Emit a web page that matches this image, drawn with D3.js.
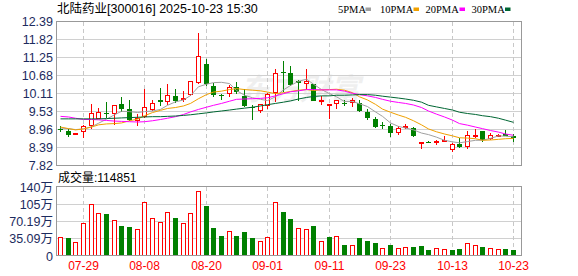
<!DOCTYPE html>
<html><head><meta charset="utf-8">
<script src="https://cdn.jsdelivr.net/npm/d3@7"></script>
<style>body{margin:0;background:#fff}svg{display:block}</style>
</head><body>
<svg id="c" width="578" height="276"></svg>
<script>
const title = "北陆药业[300016] 2025-10-23 15:30";
const dates = ["07-24","07-25","07-28","07-29","07-30","07-31","08-01","08-04","08-05","08-06","08-07","08-08","08-11","08-12","08-13","08-14","08-15","08-18","08-19","08-20","08-21","08-22","08-25","08-26","08-27","08-28","08-29","09-01","09-02","09-03","09-04","09-05","09-08","09-09","09-10","09-11","09-12","09-15","09-16","09-17","09-18","09-19","09-22","09-23","09-24","09-25","09-26","09-29","09-30","10-09","10-10","10-13","10-14","10-15","10-16","10-17","10-20","10-21","10-22","10-23"];
const openP  = [8.99,8.93,8.79,8.87,9.08,9.30,9.49,9.44,9.78,9.61,9.24,9.36,9.59,9.91,9.82,10.01,9.89,10.07,10.44,11.05,10.35,10.05,10.10,10.31,10.01,9.69,9.54,9.72,10.12,10.78,10.77,10.49,10.40,10.42,9.88,9.75,9.78,9.80,9.80,9.80,9.51,9.28,9.09,9.06,8.85,9.01,9.01,8.56,8.58,8.52,8.60,8.30,8.51,8.41,8.77,8.90,8.66,8.72,8.81,8.77];
const closeP = [8.98,8.79,8.85,9.06,9.49,9.52,9.47,9.74,9.61,9.27,9.33,9.68,9.80,9.82,10.06,9.86,9.96,10.50,11.30,10.40,10.07,10.04,10.31,10.14,9.70,9.68,9.77,10.10,10.77,10.76,10.38,10.44,10.51,9.87,9.89,9.76,9.91,9.79,9.90,9.54,9.33,9.03,9.08,8.85,9.01,9.08,8.75,8.57,8.57,8.61,8.62,8.49,8.40,8.79,8.80,8.62,8.79,8.80,8.77,8.69];
const highP  = [9.06,8.97,8.86,9.11,9.78,9.66,9.85,9.74,9.99,9.91,9.45,10.24,9.91,10.28,10.42,10.25,10.17,10.50,12.04,11.20,10.44,10.08,10.37,10.48,10.25,9.73,9.77,10.12,10.88,11.13,10.99,10.52,10.88,10.42,10.04,9.76,9.91,9.90,9.95,9.91,9.61,9.36,9.20,9.15,9.08,9.14,9.03,8.57,8.61,8.62,8.77,8.54,8.69,8.90,8.99,8.90,8.85,8.81,8.96,8.82];
const lowP   = [8.88,8.74,8.78,8.69,8.98,9.28,9.32,9.11,9.52,9.22,9.06,9.32,9.55,9.72,9.74,9.80,9.82,10.04,10.40,10.33,9.99,9.89,9.99,10.08,9.68,9.25,9.49,9.61,9.82,10.14,10.33,9.88,10.22,9.86,9.75,9.30,9.61,9.72,9.68,9.52,9.25,9.01,8.98,8.73,8.80,8.98,8.74,8.35,8.54,8.48,8.60,8.25,8.38,8.35,8.69,8.57,8.64,8.71,8.76,8.56];
const prevClose = 8.95;
const ma5  = [9.01,8.99,8.96,8.98,9.05,9.16,9.29,9.43,9.54,9.53,9.50,9.53,9.55,9.60,9.73,9.84,9.90,10.04,10.32,10.40,10.45,10.46,10.42,10.20,10.05,9.97,9.92,9.88,10.00,10.22,10.36,10.49,10.56,10.40,10.23,10.10,10.00,9.85,9.85,9.78,9.69,9.52,9.38,9.17,9.06,9.01,8.95,8.85,8.80,8.72,8.62,8.57,8.54,8.58,8.62,8.62,8.68,8.76,8.75,8.73];
const ma10 = [9.04,8.99,8.95,8.98,9.04,9.11,9.14,9.15,9.17,9.24,9.29,9.40,9.50,9.57,9.63,9.66,9.71,9.79,9.94,10.07,10.15,10.18,10.23,10.26,10.23,10.21,10.19,10.15,10.10,10.13,10.17,10.21,10.23,10.20,10.22,10.23,10.24,10.21,10.13,10.00,9.90,9.76,9.61,9.51,9.42,9.35,9.24,9.11,8.98,8.89,8.82,8.76,8.70,8.69,8.67,8.62,8.63,8.65,8.67,8.68];
const ma20 = [9.38,9.36,9.32,9.28,9.28,9.27,9.25,9.23,9.22,9.21,9.20,9.21,9.24,9.28,9.32,9.37,9.44,9.52,9.60,9.67,9.73,9.79,9.86,9.92,9.93,9.94,9.95,9.97,10.03,10.10,10.16,10.19,10.23,10.23,10.22,10.22,10.22,10.18,10.11,10.07,10.03,9.98,9.92,9.86,9.82,9.79,9.74,9.66,9.55,9.45,9.36,9.26,9.15,9.10,9.04,8.99,8.93,8.88,8.82,8.78];
const ma30 = [9.30,9.30,9.30,9.30,9.30,9.30,9.31,9.32,9.33,9.34,9.35,9.36,9.37,9.37,9.38,9.39,9.41,9.43,9.46,9.49,9.52,9.55,9.58,9.61,9.64,9.67,9.71,9.75,9.79,9.83,9.87,9.93,9.98,10.01,10.03,10.03,10.05,10.05,10.06,10.07,10.07,10.05,10.02,9.99,9.96,9.93,9.89,9.83,9.73,9.68,9.63,9.58,9.51,9.47,9.44,9.40,9.37,9.32,9.26,9.19];
const volume = [38.0,36.0,27.8,66.5,105.0,86.8,85.4,72.6,61.0,58.3,54.2,109.0,76.6,68.5,90.2,76.6,66.5,86.8,131.5,101.7,56.3,40.7,50.2,40.7,48.8,36.6,30.5,38.0,109.0,88.8,75.3,56.3,54.2,61.0,30.5,38.0,40.0,22.4,21.7,36.6,30.5,26.4,15.6,22.4,15.6,17.6,17.6,20.3,12.2,15.6,13.6,12.2,14.2,25.8,22.4,17.6,15.6,13.6,14.2,11.49];
const lastVolumeText = "成交量:114851";
const priceTicks = [12.39,11.82,11.25,10.68,10.11,9.53,8.96,8.39,7.82];
const priceTickLabels = ["12.39","11.82","11.25","10.68","10.11","9.53","8.96","8.39","7.82"];
const volTicks = [140.38,105.28,70.19,35.09,0];
const volTickLabels = ["140万","105万","70.19万","35.09万","0"];
const dateTicks = ["07-29","08-08","08-20","09-01","09-11","09-23","10-13","10-23"];
const maNames = ["5PMA","10PMA","20PMA","30PMA"];
const maColors = ["#a0a0a0","#f0a000","#ff00ff","#006633"];
const maSeries = [ma5, ma10, ma20, ma30];

const RED = "#ff0000", GREEN = "#008000";
const L = 56, R = 522;
const svg = d3.select("#c");
const font = "'Liberation Sans','Noto Sans CJK SC',sans-serif";

const x = d3.scaleBand().domain(dates).range([L, L + dates.length * 7.68]);
const cx = d => Math.round(x(d) + x.bandwidth() / 2);
const y = d3.scaleLinear().domain([7.82, 12.39]).range([165.5, 21.5]);
const yv = d3.scaleLinear().domain([0, 140.38]).range([256, 187]);

// watermark
svg.append("text").attr("x", 300).attr("y", 100).attr("text-anchor", "middle")
  .attr("font-family", "'Noto Sans CJK SC',sans-serif").attr("font-size", 30).attr("font-weight", "bold")
  .attr("font-style", "italic").attr("fill", "#000").attr("opacity", 0.06).text("东方财富");

// title
svg.append("text").attr("x", 57).attr("y", 13).attr("font-family", font).attr("font-size", 12.5)
  .attr("fill", "#000").text(title);

// legend
const legX = [338, 380, 425.5, 471.5];
const legSq = [365.5, 413.5, 459.5, 505];
maNames.forEach((n, k) => {
  svg.append("text").attr("x", legX[k]).attr("y", 13).attr("font-family", "'Liberation Serif',serif")
    .attr("font-size", 10.5).attr("fill", "#000").text(n);
  svg.append("rect").attr("x", legSq[k]).attr("y", 7.5).attr("width", 5.5).attr("height", 3.5)
    .attr("fill", maColors[k]);
});

const g = svg.append("g").attr("shape-rendering", "crispEdges");

// price grid
priceTicks.slice(1, -1).forEach(t => {
  const yy = Math.round(y(t) - 0.5) + 0.5;
  g.append("line").attr("x1", L).attr("x2", R).attr("y1", yy).attr("y2", yy).attr("stroke", "#d0d0d0");
});
// volume grid
volTicks.slice(1, -1).forEach(t => {
  const yy = Math.round(yv(t) - 0.5) + 0.5;
  g.append("line").attr("x1", L).attr("x2", R).attr("y1", yy).attr("y2", yy).attr("stroke", "#d0d0d0");
});
// vertical dashed
dateTicks.forEach(d => {
  const xx = cx(d) + 0.5;
  g.append("line").attr("x1", xx).attr("x2", xx).attr("y1", 22).attr("y2", 165).attr("stroke", "#c8c8c8").attr("stroke-dasharray", "4,3");
  g.append("line").attr("x1", xx).attr("x2", xx).attr("y1", 187).attr("y2", 256).attr("stroke", "#c8c8c8").attr("stroke-dasharray", "4,3");
});

// axis labels
priceTicks.forEach((t, k) => {
  svg.append("text").attr("x", 53).attr("y", y(t)).attr("dy", "0.36em").attr("text-anchor", "end")
    .attr("font-family", font).attr("font-size", 12.5).attr("fill", "#1c2b5e").text(priceTickLabels[k]);
});
volTicks.forEach((t, k) => {
  svg.append("text").attr("x", 53).attr("y", yv(t)).attr("dy", "0.36em").attr("text-anchor", "end")
    .attr("font-family", font).attr("font-size", 12.5).attr("fill", "#1c2b5e").text(volTickLabels[k]);
});
dateTicks.forEach(d => {
  svg.append("text").attr("x", cx(d) + 0.5).attr("y", 270).attr("text-anchor", "middle")
    .attr("font-family", font).attr("font-size", 12).attr("fill", RED).text(d);
});
svg.append("text").attr("x", 58).attr("y", 182).attr("font-family", font).attr("font-size", 12).attr("fill", "#000").text(lastVolumeText);

// candles
dates.forEach((d, i) => {
  const o = openP[i], c = closeP[i];
  const up = c > o;
  const col = up ? RED : GREEN;
  const px = cx(d);
  const yh = Math.round(y(highP[i])), yl = Math.round(y(lowP[i]));
  let yt = Math.round(y(Math.max(o, c))), yb = Math.round(y(Math.min(o, c)));
  if (up) {
    if (yb - yt < 2) yb = yt + 2;
    g.append("line").attr("x1", px + 0.5).attr("x2", px + 0.5).attr("y1", yh).attr("y2", yt).attr("stroke", col);
    g.append("line").attr("x1", px + 0.5).attr("x2", px + 0.5).attr("y1", yb).attr("y2", yl).attr("stroke", col);
    g.append("rect").attr("x", px - 2 + 0.5).attr("y", yt + 0.5).attr("width", 4).attr("height", yb - yt - 1)
      .attr("fill", "#fff").attr("stroke", col);
  } else {
    g.append("line").attr("x1", px + 0.5).attr("x2", px + 0.5).attr("y1", yh).attr("y2", yl).attr("stroke", col);
    g.append("rect").attr("x", px - 2).attr("y", yt).attr("width", 5).attr("height", Math.max(1, yb - yt))
      .attr("fill", col);
  }
});

// volume bars
dates.forEach((d, i) => {
  const prev = i === 0 ? prevClose : closeP[i - 1];
  const up = closeP[i] > prev;
  const px = cx(d);
  const yt = Math.round(yv(volume[i]));
  if (up) {
    g.append("rect").attr("x", px - 2 + 0.5).attr("y", yt + 0.5).attr("width", 4).attr("height", 256 - yt - 1)
      .attr("fill", "#fff").attr("stroke", RED);
  } else {
    g.append("rect").attr("x", px - 2).attr("y", yt).attr("width", 5).attr("height", 256 - yt).attr("fill", GREEN);
  }
});

// MA lines
const line = d3.line().x((v, i) => cx(dates[i]) + 0.5).y(v => y(v));
maSeries.forEach((s, k) => {
  svg.append("path").attr("d", line(s)).attr("fill", "none").attr("stroke", maColors[k]).attr("stroke-width", 1);
});

// frames
g.append("rect").attr("x", L + 0.5).attr("y", 21.5).attr("width", R - L - 1).attr("height", 144).attr("fill", "none").attr("stroke", "#999");
g.append("rect").attr("x", L + 0.5).attr("y", 186.5).attr("width", R - L - 1).attr("height", 69).attr("fill", "none").attr("stroke", "#999");
</script>
</body></html>
